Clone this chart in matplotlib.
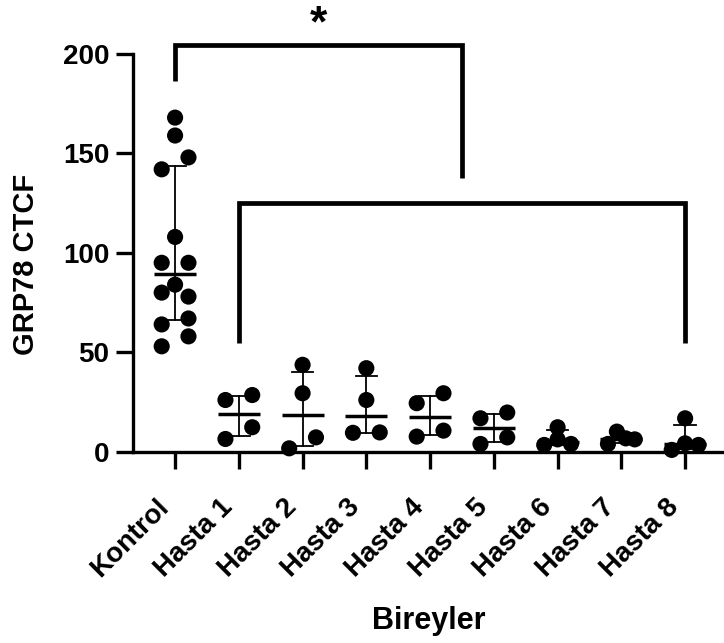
"""Dot plot of GRP78 CTCF per individual, median with interquartile range."""

import matplotlib
matplotlib.use("Agg")
import matplotlib.pyplot as plt
import matplotlib.transforms as mtransforms
import numpy as np

plt.rcParams["font.family"] = ["Liberation Sans", "DejaVu Sans"]
plt.rcParams["font.weight"] = "bold"

# values, listed left-to-right within each row of dots
categories = ["Kontrol", "Hasta 1", "Hasta 2", "Hasta 3", "Hasta 4",
              "Hasta 5", "Hasta 6", "Hasta 7", "Hasta 8"]
kontrol = [168, 159, 142, 148, 108, 95, 95, 80, 84, 78, 64, 67, 53, 58]
hasta1 = [26, 6.4, 28.5, 12.3]
hasta2 = [43.7, 29.4, 1.7, 7.2]
hasta3 = [42, 26, 9.5, 9.7]
hasta4 = [24.4, 7.6, 29.4, 10.6]
hasta5 = [16.8, 3.9, 19.7, 7.2]
hasta6 = [3.4, 6.2, 3.9, 12.3]
hasta7 = [3.9, 10.1, 6.7, 6.2]
hasta8 = [0.9, 16.8, 4.2, 3.4]
groups = [kontrol, hasta1, hasta2, hasta3, hasta4,
          hasta5, hasta6, hasta7, hasta8]
y_ticks = [0, 50, 100, 150, 200]


def row_offsets(values, px_per_unit, diam_px, spread):
    """Put dots that would overlap into one row and spread them sideways."""
    vals = np.asarray(values, dtype=float)
    rows = []
    for i in np.argsort(vals, kind="stable"):
        if rows and (vals[i] - vals[rows[-1][0]]) * px_per_unit < diam_px:
            rows[-1].append(i)
        else:
            rows.append([i])
    offs = np.zeros(len(vals))
    for r in rows:
        r = sorted(r)
        if len(r) > 1:
            offs[r] = np.linspace(-spread / 2, spread / 2, len(r))
    return offs


fig = plt.figure(figsize=(7.24, 6.43), dpi=100)
ax = fig.add_axes([133 / 724, 191.3 / 643, 591 / 724, 397.7 / 643])
ax.set_xlim(-0.66, 8.61)
ax.set_ylim(0, 200)

px_per_unit = np.diff(ax.transData.transform([(0, 0), (0, 1)])[:, 1])[0]

for i, vals in enumerate(groups):
    q1, med, q3 = np.percentile(vals, [25, 50, 75], method="weibull")
    ax.plot([i, i], [q1, q3], color="black", lw=1.3, zorder=2)
    for q in (q1, q3):
        ax.plot([i - 0.17, i + 0.17], [q, q], color="black", lw=1.3, zorder=2)
    ax.plot([i - 0.33, i + 0.33], [med, med], color="black", lw=2.5,
            solid_capstyle="butt", zorder=2)
    x = i + row_offsets(vals, px_per_unit, 16, 0.42)
    ax.scatter(x, vals, s=135, color="black", edgecolors="none",
               zorder=3, clip_on=False)

# significance brackets
bracket = dict(color="black", lw=3.4, clip_on=False,
               solid_joinstyle="miter", solid_capstyle="butt")
ax.plot([0, 0, 4.5, 4.5], [186.3, 204.5, 204.5, 137.7], **bracket)
ax.plot([1, 1, 8, 8], [54.7, 125, 125, 54.7], **bracket)
ax.text(2.25, 209, "*", ha="center", va="baseline", fontsize=32,
        fontweight="bold", clip_on=False)

ax.spines["top"].set_visible(False)
ax.spines["right"].set_visible(False)
ax.spines["left"].set_linewidth(2.4)
ax.spines["bottom"].set_linewidth(2.4)
ax.tick_params(width=2.4, length=12, labelsize=20)
ax.tick_params(axis="y", pad=5)
ax.tick_params(axis="x", pad=25)

ax.set_yticks(y_ticks)
ax.set_xticks(range(len(categories)))
ax.set_xticklabels(categories, rotation=45, ha="right", va="center",
                   rotation_mode="anchor", fontweight="bold")
shift = mtransforms.ScaledTranslation(-10 / 100, 0, fig.dpi_scale_trans)
for lab in ax.get_xticklabels():
    lab.set_transform(lab.get_transform() + shift)
for lab in ax.get_yticklabels():
    lab.set_fontweight("bold")

ax.set_ylabel("GRP78 CTCF", fontsize=21, fontweight="bold")
ax.yaxis.set_label_coords(-0.158, 0.47)
ax.set_xlabel("Bireyler", fontsize=22, fontweight="bold", labelpad=17)

fig.savefig("out.png", dpi=100)
